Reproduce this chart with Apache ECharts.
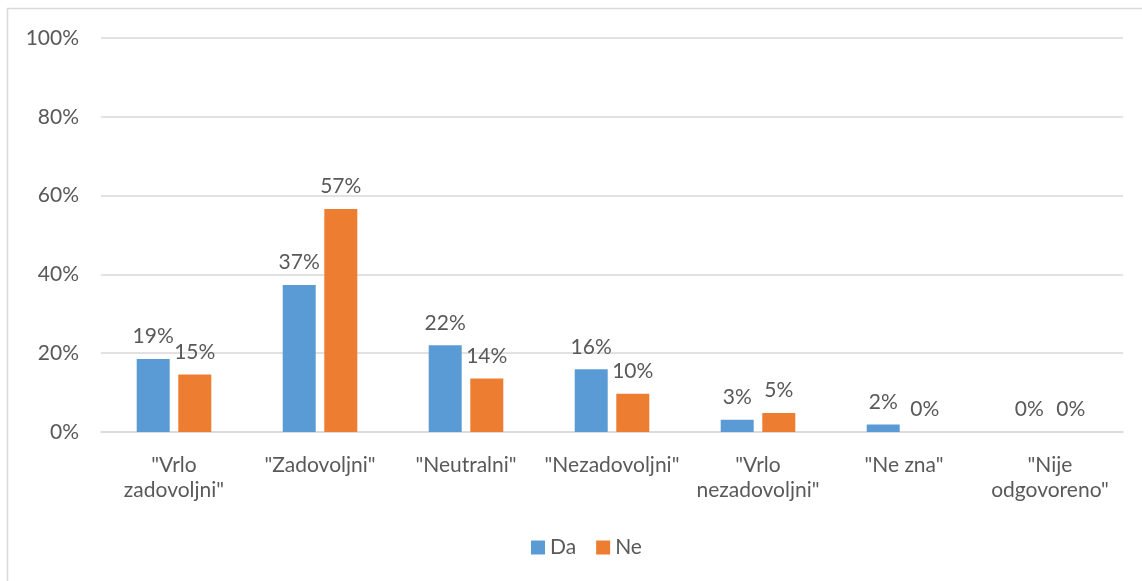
<!DOCTYPE html>
<html>
<head>
<meta charset="utf-8">
<script src="https://cdn.jsdelivr.net/npm/echarts@6/dist/echarts.min.js"></script>
<style>html,body{margin:0;padding:0;background:#fff}#c{width:1142px;height:581px}</style>
</head>
<body>
<div id="c"></div>
<script>
const categories = ['"Vrlo\nzadovoljni"', '"Zadovoljni"', '"Neutralni"', '"Nezadovoljni"', '"Vrlo\nnezadovoljni"', '"Ne zna"', '"Nije\nodgovoreno"'];
const seriesNames = ['Da', 'Ne'];
const daValues = [18.5, 37.3, 22.0, 15.9, 3.1, 1.9, 0];
const neValues = [14.6, 56.6, 13.6, 9.7, 4.8, 0, 0];
const yTicks = [0, 20, 40, 60, 80, 100];

const FONT = 'Lato';
const TXT = '#595959';
const FS = 21;
const chart = echarts.init(document.getElementById('c'));
const lbl = {
  show: true, position: 'top', distance: 12,
  fontFamily: FONT, fontSize: FS, color: TXT,
  formatter: p => Math.round(p.value) + '%'
};
chart.setOption({
  animation: false,
  textStyle: { fontFamily: FONT },
  graphic: [{
    type: 'rect', shape: { x: 7.5, y: 8.5, width: 1200, height: 700 },
    style: { fill: 'none', stroke: '#d9d9d9', lineWidth: 1.5 }, silent: true
  }],
  color: ['#5b9bd5', '#ed7d31'],
  grid: { left: 101, right: 19, top: 38, bottom: 149, containLabel: false },
  legend: {
    data: seriesNames, top: 532, left: 526,
    itemWidth: 14, itemHeight: 14, itemGap: 20, icon: 'rect',
    textStyle: { fontFamily: FONT, fontSize: FS, color: TXT }
  },
  xAxis: {
    type: 'category', data: categories,
    axisLine: { lineStyle: { color: '#d9d9d9', width: 1.5 } },
    axisTick: { show: false },
    axisLabel: { interval: 0, margin: 21, fontFamily: FONT, fontSize: FS, color: TXT, lineHeight: 25 }
  },
  yAxis: {
    type: 'value', min: yTicks[0], max: yTicks[yTicks.length - 1], interval: 20,
    axisLine: { show: false }, axisTick: { show: false },
    splitLine: { lineStyle: { color: '#d9d9d9', width: 1.5 } },
    axisLabel: { formatter: '{value}%', margin: 22, fontFamily: FONT, fontSize: FS, color: TXT }
  },
  series: [
    { name: seriesNames[0], type: 'bar', data: daValues, barWidth: 33, barGap: '26%', label: lbl },
    { name: seriesNames[1], type: 'bar', data: neValues, barWidth: 33, barGap: '26%', label: lbl }
  ]
});
</script>
</body>
</html>
